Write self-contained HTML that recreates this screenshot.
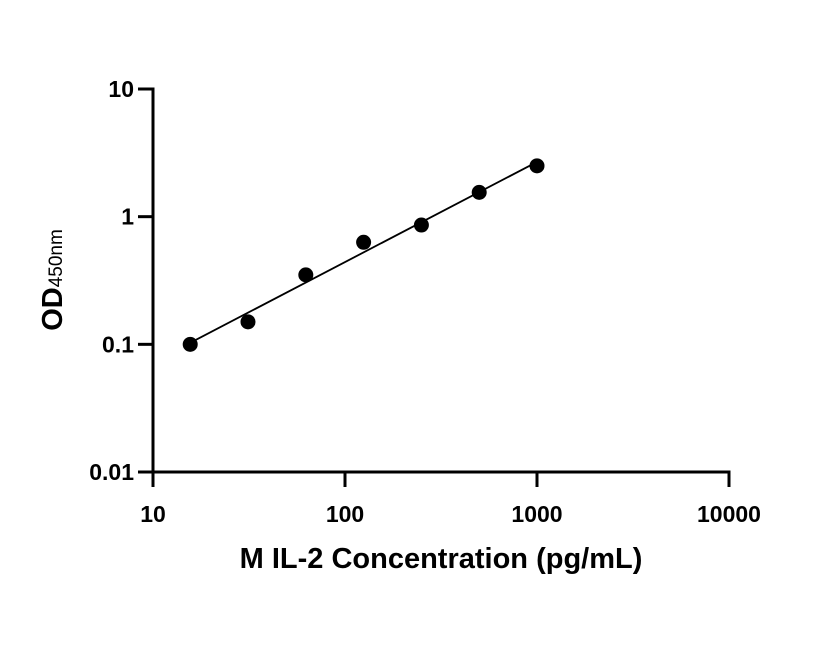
<!DOCTYPE html>
<html><head><meta charset="utf-8"><style>
body{margin:0;background:#fff;}
svg text{font-family:"Liberation Sans",sans-serif;font-weight:bold;fill:#000;}
</style></head><body>
<svg id="c" width="816" height="640" xmlns="http://www.w3.org/2000/svg"></svg>
<script>
const concentrations=[15.625,31.25,62.5,125,250,500,1000];
const odValues=[0.1,0.15,0.35,0.63,0.86,1.55,2.5];
const xTicks=[10,100,1000,10000];
const xTickLabels=["10","100","1000","10000"];
const yTicks=[10,1,0.1,0.01];
const yTickLabels=["10","1","0.1","0.01"];
const svg=document.getElementById('c');
const NS="http://www.w3.org/2000/svg";
const X0=153,XW=576,Y0=472,YH=383;
function xs(v){return X0+(Math.log10(v)-1)/3*XW;}
function ys(v){return Y0-(Math.log10(v)+2)/3*YH;}
function mk(t,a,p){const e=document.createElementNS(NS,t);for(const k in a)e.setAttribute(k,a[k]);(p||svg).appendChild(e);return e;}
const axes=mk('g',{});


let e=mk('line',{x1:X0,y1:Y0,x2:X0+XW+1.5,y2:Y0,stroke:'#000','stroke-width':3},axes);

e=mk('line',{x1:X0,y1:ys(10)-1.5,x2:X0,y2:Y0+1.5,stroke:'#000','stroke-width':3},axes);

xTicks.forEach((v,i)=>{
 const t=mk('line',{x1:xs(v),y1:Y0,x2:xs(v),y2:Y0+15,stroke:'#000','stroke-width':3},axes);
 
 const l=mk('text',{x:xs(v),y:Y0+50,'text-anchor':'middle','font-size':23},axes);l.textContent=xTickLabels[i];
 
});
yTicks.forEach((v,i)=>{
 const t=mk('line',{x1:X0-15,y1:ys(v),x2:X0,y2:ys(v),stroke:'#000','stroke-width':3},axes);
 
 const l=mk('text',{x:X0-19,y:ys(v)+8,'text-anchor':'end','font-size':23},axes);l.textContent=yTickLabels[i];
 
});
// regression in log-log
const lx=concentrations.map(Math.log10),ly=odValues.map(Math.log10),n=lx.length;
const mx=lx.reduce((a,b)=>a+b)/n,my=ly.reduce((a,b)=>a+b)/n;
let sxy=0,sxx=0;for(let i=0;i<n;i++){sxy+=(lx[i]-mx)*(ly[i]-my);sxx+=(lx[i]-mx)**2;}
const b=sxy/sxx,a=my-b*mx;
const xa=concentrations[0],xb=concentrations[n-1];
e=mk('line',{x1:xs(xa),y1:ys(10**(a+b*Math.log10(xa))),x2:xs(xb),y2:ys(10**(a+b*Math.log10(xb))),stroke:'#000','stroke-width':1.8});

concentrations.forEach((c,i)=>{
 const p=mk('circle',{cx:xs(c),cy:ys(odValues[i]),r:7.5,fill:'#000'});
 
});
e=mk('text',{x:441,y:568,'text-anchor':'middle','font-size':29});e.textContent="M IL-2  Concentration (pg/mL)";

e=mk('text',{transform:'translate(62,280) rotate(-90)','text-anchor':'middle','font-size':29});
e.innerHTML='OD<tspan font-size="19" font-weight="normal">450nm</tspan>';

</script>
</body></html>
